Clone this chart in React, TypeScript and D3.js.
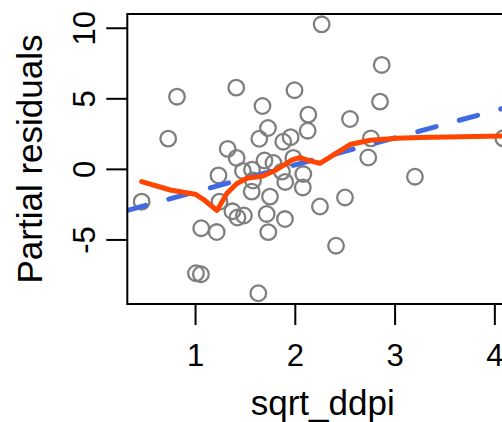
import React from "react";
import * as d3 from "d3";

// sqrt_ddpi values (x) and partial residuals (y)
const pointX = [
  2.264, 2.866, 0.814, 1.408, 1.992, 1.671, 2.130, 2.849, 0.726, 1.726,
  1.639, 1.879, 1.953, 2.124, 2.548, 2.758, 4.085, 1.322, 2.731, 1.412,
  1.691, 1.781, 1.980, 1.230, 1.475, 1.566, 1.563, 1.866, 1.899, 2.080,
  2.075, 3.199, 0.460, 1.240, 1.746, 2.247, 2.498, 1.370, 1.420, 1.485,
  1.713, 1.896, 1.057, 1.212, 1.729, 2.408, 1.004, 1.054, 1.629, 1.576,
];
const pointY = [
  10.28, 7.40, 5.15, 5.79, 5.61, 4.49, 3.88, 4.80, 2.18, 2.93,
  2.17, 1.96, 2.28, 2.74, 3.57, 2.20, 2.20, 1.45, 0.84, 0.81,
  0.63, 0.45, 0.81, -0.43, -0.11, -0.02, -1.58, -0.16, -0.89, -0.33,
  -1.28, -0.52, -2.29, -2.29, -1.93, -2.63, -1.99, -2.97, -3.41, -3.27,
  -3.16, -3.52, -4.17, -4.44, -4.45, -5.41, -7.36, -7.43, -8.78, -0.79,
];

// smoother (red) vertices
const smoothX = [0.46, 0.747, 0.997, 1.074, 1.215, 1.315, 1.415, 1.515, 1.676, 1.816, 1.967, 2.047, 2.147, 2.247, 2.548, 2.748, 3.019, 3.25, 4.088];
const smoothY = [-0.87, -1.46, -1.76, -2.10, -2.91, -1.69, -1.00, -0.63, -0.47, -0.01, 0.67, 0.84, 0.60, 0.43, 1.76, 2.06, 2.20, 2.25, 2.37];

// linear fit (blue dashed)
const fitIntercept = -3.513;
const fitSlope = 1.919;

const xTicks = [1, 2, 3, 4];
const yTicks = [-5, 0, 5, 10];
const xLabel = "sqrt_ddpi";
const yLabel = "Partial residuals";

const W = 502;
const H = 422;
const L = 127.3, R = 518.1, T = 14, B = 304;

export default function App() {
  const x = d3.scaleLinear().domain([0.316, 4.233]).range([L, R]);
  const y = d3.scaleLinear().domain([-9.54, 11.01]).range([B, T]);
  const font = "'Liberation Sans', Arial, Helvetica, sans-serif";

  const smoothPts: [number, number][] = smoothX.map((v, i) => [v, smoothY[i]]);
  const line = d3.line<[number, number]>().x((d) => x(d[0])).y((d) => y(d[1]));
  const [x0, x1] = x.domain();

  return (
    <svg
      width={W}
      height={H}
      style={{ position: "fixed", left: 0, top: 0, background: "#fff" }}
    >
      <defs>
        <clipPath id="plotclip">
          <rect x={L} y={T} width={R - L} height={B - T} />
        </clipPath>
      </defs>
      <rect x={0} y={0} width={W} height={H} fill="#fff" />
      <g clipPath="url(#plotclip)">
        {pointX.map((v, i) => (
          <circle
            key={i}
            cx={x(v)}
            cy={y(pointY[i])}
            r={7.8}
            fill="none"
            stroke="#7f7f7f"
            strokeWidth={2.3}
          />
        ))}
        <line
          x1={x(x0)}
          y1={y(fitIntercept + fitSlope * x0)}
          x2={x(x1)}
          y2={y(fitIntercept + fitSlope * x1)}
          stroke="#4169E1"
          strokeWidth={5}
          strokeDasharray="19 24"
          strokeLinecap="round"
        />
        <path
          d={line(smoothPts) || ""}
          fill="none"
          stroke="#FF4500"
          strokeWidth={5}
          strokeLinejoin="round"
          strokeLinecap="round"
        />
      </g>
      {/* frame */}
      <rect x={L} y={T} width={R - L} height={B - T} fill="none" stroke="#000" strokeWidth={2} />
      {/* x axis */}
      <g>
        {xTicks.map((t) => (
          <g key={t}>
            <line x1={x(t)} x2={x(t)} y1={B} y2={B + 21} stroke="#000" strokeWidth={2} />
            <text x={x(t)} y={366} textAnchor="middle" fontFamily={font} fontSize={31} fill="#000">
              {t}
            </text>
          </g>
        ))}
      </g>
      {/* y axis */}
      <g>
        {yTicks.map((t) => (
          <g key={t}>
            <line x1={L - 21} x2={L} y1={y(t)} y2={y(t)} stroke="#000" strokeWidth={2} />
            <text
              transform={`translate(95,${y(t)}) rotate(-90)`}
              textAnchor="middle"
              fontFamily={font}
              fontSize={31}
              fill="#000"
            >
              {t}
            </text>
          </g>
        ))}
      </g>
      <text x={(L + R) / 2} y={415} textAnchor="middle" fontFamily={font} fontSize={35} fill="#000">
        {xLabel}
      </text>
      <text
        transform={`translate(42,${(T + B) / 2}) rotate(-90)`}
        textAnchor="middle"
        fontFamily={font}
        fontSize={35}
        fill="#000"
      >
        {yLabel}
      </text>
    </svg>
  );
}
